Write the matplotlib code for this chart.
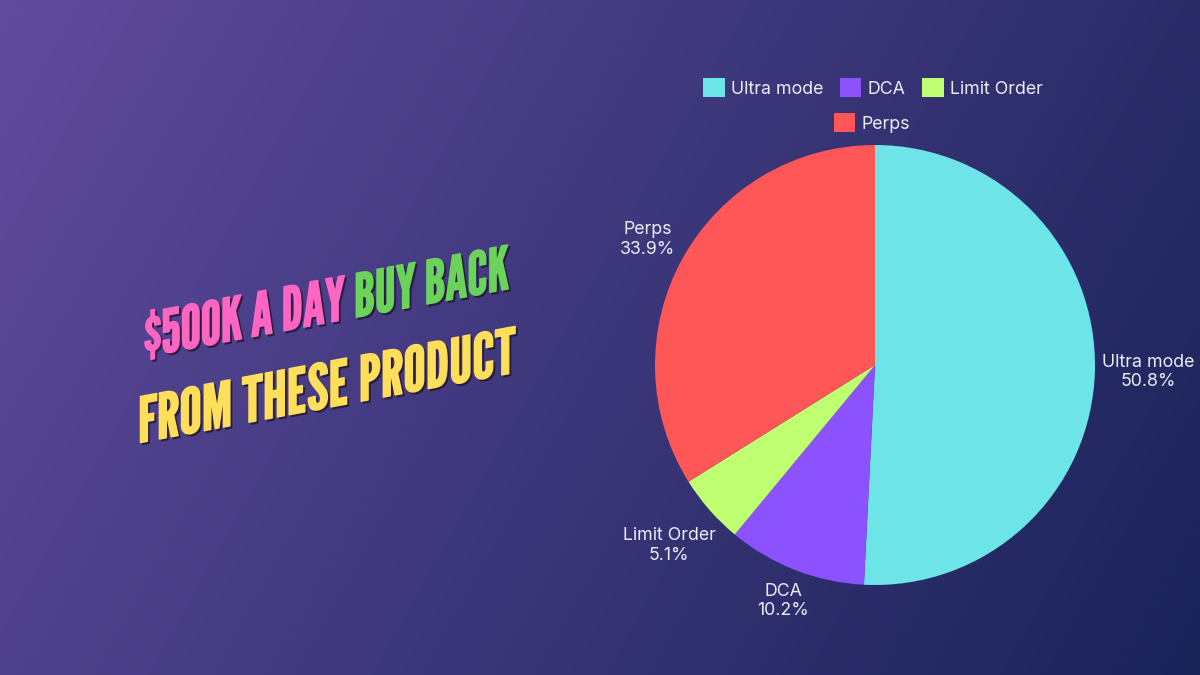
import numpy as np
import matplotlib
matplotlib.use('Agg')
import matplotlib.pyplot as plt
from matplotlib import font_manager as fm, patheffects as pe, transforms as mtrans
from matplotlib import colors as mcolors
from matplotlib.patches import Patch
from matplotlib.textpath import TextPath

# ---- data ----
labels = ['Ultra mode', 'DCA', 'Limit Order', 'Perps']
shares = [50.8, 10.2, 5.1, 33.9]
colors = ['#6DE4E8', '#8C52FF', '#C1FF72', '#FF5757']
title_line1 = [('$500K A DAY ', '#FF66C4'), ('BUY BACK', '#6BD35A')]
title_line2 = [('FROM THESE PRODUCT', '#FFDE59')]

W, H, DPI = 1200, 675, 100
TXT = '#ECECF8'
plt.rcParams['font.family'] = ['Inter', 'DejaVu Sans']

fig = plt.figure(figsize=(W / DPI, H / DPI), dpi=DPI)

# ---- background gradient ----
bg = fig.add_axes([0, 0, 1, 1])
bg.axis('off')
yy, xx = np.mgrid[0:H, 0:W]
t = (xx * W + yy * H) / (W * W + H * H)
c0 = np.array([0x60, 0x4B, 0x9D]) / 255
c1 = np.array([0x19, 0x23, 0x58]) / 255
img = c0[None, None, :] * (1 - t[..., None]) + c1[None, None, :] * t[..., None]
bg.imshow(img, extent=[0, W, H, 0], aspect='auto', interpolation='bilinear')
bg.set_xlim(0, W)
bg.set_ylim(H, 0)

# ---- pie ----
cx, cy, R = 875, 365, 220
ax = fig.add_axes([(cx - R) / W, (H - cy - R) / H, 2 * R / W, 2 * R / H])
wedges, _ = ax.pie(shares, colors=colors, startangle=90, counterclock=False,
                   radius=1, wedgeprops=dict(linewidth=0))
ax.set_xlim(-1, 1)
ax.set_ylim(-1, 1)
ax.set_aspect('equal')
ax.axis('off')

renderer = fig.canvas.get_renderer()
for w, lab, v in zip(wedges, labels, shares):
    th = np.radians((w.theta1 + w.theta2) / 2)
    txt = ax.text(0, 0, f"{lab}\n{v:.1f}%", ha='center', va='center',
                  multialignment='center', color=TXT, fontsize=12.8, linespacing=1.2)
    bb = txt.get_window_extent(renderer)
    r_px = 1.03 * R + (bb.width / 2 * abs(np.cos(th)) + bb.height / 2 * abs(np.sin(th)))
    txt.set_position((r_px / R * np.cos(th), r_px / R * np.sin(th)))

# ---- legend ----
handles = [Patch(facecolor=c, edgecolor='none') for c in colors]
legkw = dict(loc='center', frameon=False, prop=dict(size=12.8), labelcolor=TXT,
             handlelength=1.2, handleheight=1.2, handletextpad=0.35,
             columnspacing=0.95, borderpad=0, borderaxespad=0)
fig.legend(handles[:3], labels[:3], ncol=3, bbox_to_anchor=(873 / W, 1 - 88 / H), **legkw)
fig.legend(handles[3:], labels[3:], ncol=1, bbox_to_anchor=(872 / W, 1 - 123 / H), **legkw)

# ---- title font ----
def pick_title_font():
    for name in ['League Gothic', 'Bebas Neue', 'Oswald', 'Anton', 'Fjalla One']:
        ents = [f for f in fm.fontManager.ttflist if f.name == name and f.style == 'normal']
        if ents:
            def wt(f):
                w_ = f.weight
                return fm.weight_dict.get(w_, 400) if isinstance(w_, str) else w_
            ents.sort(key=lambda f: abs(wt(f) - 400))
            return fm.FontProperties(fname=ents[0].fname)
    return fm.FontProperties(family='DejaVu Sans', weight='bold', stretch='condensed')

fp = pick_title_font()
cap_units = TextPath((0, 0), 'H', size=100, prop=fp).get_extents().height

def measure(s, size):
    tt = fig.text(0, 0, s, fontproperties=fp, size=size)
    wdt = tt.get_window_extent(renderer).width
    tt.remove()
    return wdt


class SkewShadow(pe.AbstractPathEffect):
    """Horizontal squeeze + vertical shear around the line start, bolder fill, drop shadow."""

    def __init__(self, x0, y0, sx, theta_deg, shadow='#1c1020', alpha=0.55,
                 off=(2.0, -2.0), bold=1.1):
        super().__init__()
        self.extra = (mtrans.Affine2D().translate(-x0, -y0).scale(sx, 1)
                      .skew_deg(0, theta_deg).translate(x0, y0))
        self.shadow = mcolors.to_rgba(shadow)
        self.alpha = alpha
        self.off = mtrans.Affine2D().translate(*off)
        self.bold = bold

    def draw_path(self, renderer, gc, tpath, affine, rgbFace=None):
        gc0 = renderer.new_gc()
        gc0.copy_properties(gc)
        gc0.set_alpha(self.alpha)
        gc0.set_foreground(self.shadow)
        gc0.set_linewidth(self.bold)
        gc0.set_joinstyle('round')
        renderer.draw_path(gc0, tpath, affine + self.extra + self.off, self.shadow)
        gc0.restore()
        gc1 = renderer.new_gc()
        gc1.copy_properties(gc)
        gc1.set_foreground(rgbFace)
        gc1.set_linewidth(self.bold)
        gc1.set_joinstyle('round')
        renderer.draw_path(gc1, tpath, affine + self.extra, rgbFace)
        gc1.restore()


ident = mtrans.IdentityTransform()

def draw_line(parts, x0, y0_top, target_len, cap_px, shear_deg):
    y0 = H - y0_top
    size = cap_px * 72 / DPI * 100 / cap_units
    full = ''.join(p for p, _ in parts)
    wf = measure(full, size)
    sx = target_len / wf
    eff = [SkewShadow(x0, y0, sx, shear_deg)]
    for i, (s, c) in enumerate(parts):
        rest = ''.join(p for p, _ in parts[i:])
        off = wf - measure(rest, size) if i > 0 else 0
        fig.text(x0 + off, y0, s, transform=ident, ha='left', va='baseline',
                 color=c, fontproperties=fp, size=size, path_effects=eff)

draw_line(title_line1, 144, 357, 365, 44, 10.6)
draw_line(title_line2, 138, 443, 378, 46, 10.6)

fig.savefig('out.png', dpi=DPI)
